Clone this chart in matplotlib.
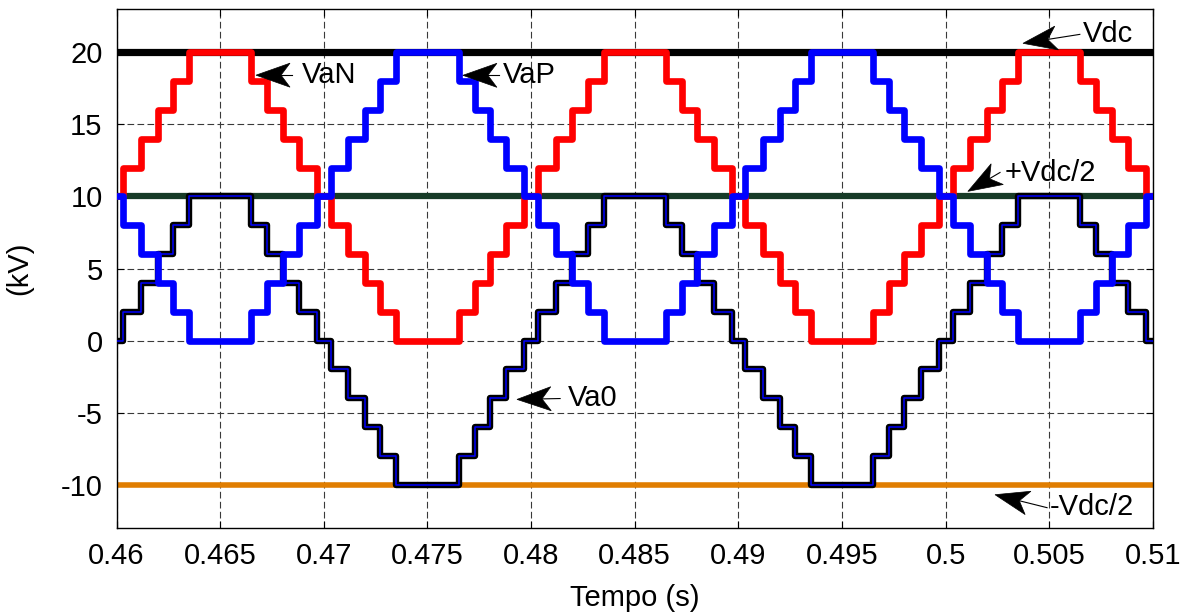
import numpy as np
import matplotlib
matplotlib.use("Agg")
import matplotlib.pyplot as plt
from matplotlib.patches import Polygon
from matplotlib.ticker import FormatStrFormatter

# switching instants (s), shared by the three arm/phase voltages
t_start, t_end = 0.46, 0.51
t_sw = [
    0.46033, 0.46119, 0.46199, 0.46273, 0.46350, 0.46650, 0.46727, 0.46801, 0.46881, 0.46967,
    0.47033, 0.47119, 0.47199, 0.47273, 0.47350, 0.47650, 0.47727, 0.47801, 0.47881, 0.47967,
    0.48033, 0.48119, 0.48199, 0.48273, 0.48350, 0.48650, 0.48727, 0.48801, 0.48881, 0.48967,
    0.49033, 0.49119, 0.49199, 0.49273, 0.49350, 0.49650, 0.49727, 0.49801, 0.49881, 0.49967,
    0.50033, 0.50119, 0.50199, 0.50273, 0.50350, 0.50650, 0.50727, 0.50801, 0.50881, 0.50967,
]

# levels (kV): first value holds from t_start, then one value after each switching instant
van_lv = [10,
          12, 14, 16, 18, 20, 18, 16, 14, 12, 10,
          8, 6, 4, 2, 0, 2, 4, 6, 8, 10,
          12, 14, 16, 18, 20, 18, 16, 14, 12, 10,
          8, 6, 4, 2, 0, 2, 4, 6, 8, 10,
          12, 14, 16, 18, 20, 18, 16, 14, 12, 10]
vap_lv = [10,
          8, 6, 4, 2, 0, 2, 4, 6, 8, 10,
          12, 14, 16, 18, 20, 18, 16, 14, 12, 10,
          8, 6, 4, 2, 0, 2, 4, 6, 8, 10,
          12, 14, 16, 18, 20, 18, 16, 14, 12, 10,
          8, 6, 4, 2, 0, 2, 4, 6, 8, 10]
va0_lv = [0,
          2, 4, 6, 8, 10, 8, 6, 4, 2, 0,
          -2, -4, -6, -8, -10, -8, -6, -4, -2, 0,
          2, 4, 6, 8, 10, 8, 6, 4, 2, 0,
          -2, -4, -6, -8, -10, -8, -6, -4, -2, 0,
          2, 4, 6, 8, 10, 8, 6, 4, 2, 0]

vdc = 20
vdc_half_pos = 10
vdc_half_neg = -10

x_ticks = [0.46, 0.465, 0.47, 0.475, 0.48, 0.485, 0.49, 0.495, 0.5, 0.505, 0.51]
y_ticks = [-10, -5, 0, 5, 10, 15, 20]

# (label, arrow tip, arrow tail, text position)
notes = [
    ("VaN", (0.46673, 18.41), (0.46847, 18.41), (0.46895, 18.41)),
    ("VaP", (0.47671, 18.40), (0.47845, 18.40), (0.47865, 18.40)),
    ("Vdc", (0.50373, 20.62), (0.50647, 21.24), (0.50662, 21.24)),
    ("+Vdc/2", (0.50107, 10.35), (0.50262, 11.66), (0.50286, 11.60)),
    ("-Vdc/2", (0.50238, -10.69), (0.50489, -11.59), (0.50503, -11.55)),
    ("Va0", (0.47932, -4.08), (0.48140, -4.02), (0.48178, -3.95)),
]

plt.rcParams['font.family'] = ['Liberation Sans', 'DejaVu Sans']
plt.rcParams['axes.unicode_minus'] = False


def stair(levels):
    t = [t_start] + t_sw + [t_end]
    v = list(levels) + [levels[-1]]
    return t, v


def arrow(ax, tip, tail, length=34, half_w=12, notch=9):
    # MATLAB-like arrow: thin shaft and a notched filled head, sized in pixels
    tr = ax.transData
    p_tip = tr.transform(tip)
    p_tail = tr.transform(tail)
    d = p_tip - p_tail
    u = d / np.hypot(*d)
    n = np.array([-u[1], u[0]])
    head = [p_tip,
            p_tip - length * u + half_w * n,
            p_tip - (length - notch) * u,
            p_tip - length * u - half_w * n]
    head = tr.inverted().transform(np.array(head))
    ax.add_patch(Polygon(head, closed=True, facecolor='black', edgecolor='black',
                         linewidth=0.5, zorder=6))
    base = tr.inverted().transform(p_tip - (length - notch) * u)
    ax.plot([base[0], tail[0]], [base[1], tail[1]], color='black', lw=0.8, zorder=6)


fig = plt.figure(figsize=(11.84, 6.14), dpi=100)
ax = fig.add_axes([116.5 / 1184, 1 - 528 / 614, 1036.5 / 1184, 519 / 614])
ax.set_xlim(t_start, t_end)
ax.set_ylim(-13, 23)

ax.axhline(vdc, color='black', lw=5.2, zorder=2)
ax.axhline(vdc_half_pos, color='#173b27', lw=4.5, zorder=2)
ax.axhline(vdc_half_neg, color='#e07d00', lw=4.0, zorder=2)

t, v = stair(van_lv)
ax.plot(t, v, drawstyle='steps-post', color='#ff0000', lw=4.8, zorder=3)
t, v = stair(va0_lv)
ax.plot(t, v, drawstyle='steps-post', color='black', lw=4.6, zorder=4)
ax.plot(t, v, drawstyle='steps-post', color='#0000ff', lw=1.1, zorder=4)
t, v = stair(vap_lv)
ax.plot(t, v, drawstyle='steps-post', color='#0000ff', lw=4.8, zorder=5)

ax.set_xticks(x_ticks)
ax.set_yticks(y_ticks)
ax.xaxis.set_major_formatter(FormatStrFormatter('%g'))
ax.tick_params(direction='in', length=5, width=0.8, labelsize=21, top=True, right=True, pad=10)
ax.grid(True, color='#3a3a3a', lw=0.8, linestyle=(0, (6, 3)))
for s in ax.spines.values():
    s.set_linewidth(1.0)

ax.set_xlabel("Tempo (s)", fontsize=21, labelpad=10)
ax.set_ylabel("(kV)", fontsize=21, labelpad=20)

for label, tip, tail, pos in notes:
    arrow(ax, tip, tail)
    ax.text(pos[0], pos[1], label, fontsize=21, ha='left', va='center', zorder=7)

fig.savefig("out.png", dpi=100)
